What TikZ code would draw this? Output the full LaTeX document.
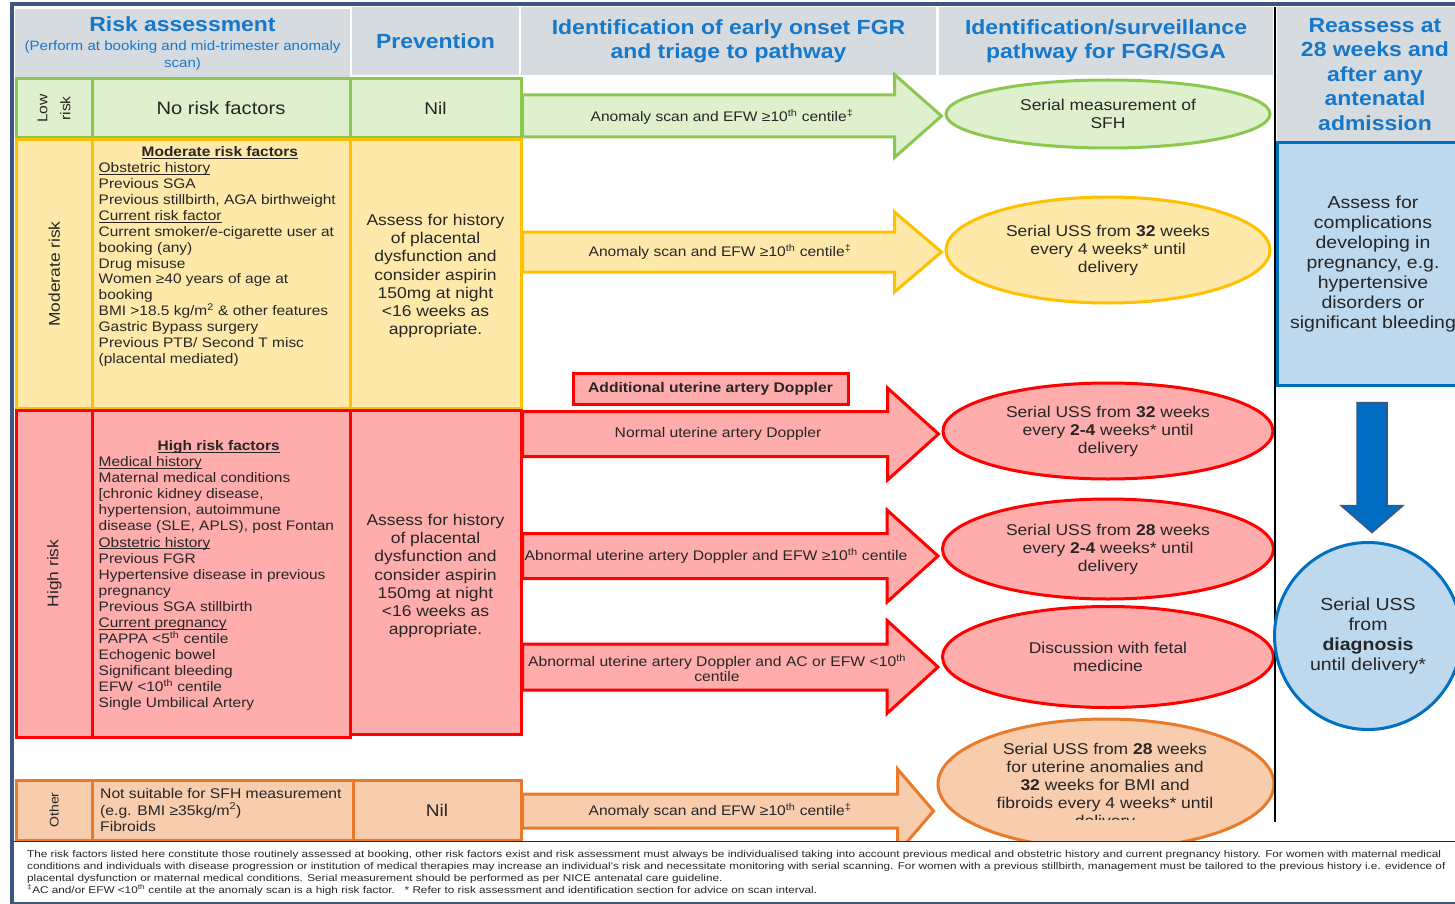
\documentclass[tikz,border=0pt]{standalone}
\usepackage{fontspec}
\setmainfont{Liberation Sans}[FakeStretch=1.12]
\newfontfamily\notefont{Liberation Sans}[FakeStretch=1.2]
\usetikzlibrary{positioning,shapes.geometric,calc}

\definecolor{ink}{RGB}{38,38,38}
\definecolor{framecol}{RGB}{62,86,124}
\definecolor{headgrey}{RGB}{214,219,224}
\definecolor{headblue}{RGB}{22,120,202}
\definecolor{lowfill}{RGB}{222,240,205}
\definecolor{lowline}{RGB}{140,200,78}
\definecolor{modfill}{RGB}{255,233,170}
\definecolor{modline}{RGB}{255,192,0}
\definecolor{hifill}{RGB}{255,172,172}
\definecolor{hiline}{RGB}{255,0,0}
\definecolor{othfill}{RGB}{248,205,173}
\definecolor{othline}{RGB}{232,122,42}
\definecolor{refill}{RGB}{190,216,238}
\definecolor{reline}{RGB}{0,112,192}
\definecolor{downfill}{RGB}{0,108,194}

% underlined sub-heading in the factor lists
\newcommand{\undl}[1]{\setbox0=\hbox{#1}\rlap{\raisebox{-2.2pt}{\rule{\wd0}{0.9pt}}}\box0}

\tikzset{%
   cell/.style={
      draw,
      line width=3pt,
      inner sep=0pt,
      text=ink,
      align=center
   },
   lowcell/.style={cell, draw=lowline, fill=lowfill},
   modcell/.style={cell, draw=modline, fill=modfill},
   hicell/.style={cell, draw=hiline, fill=hifill},
   othcell/.style={cell, draw=othline, fill=othfill},
   headcell/.style={
      fill=headgrey,
      inner sep=0pt,
      text=headblue,
      align=center,
      font=\bfseries\fontsize{20.5}{24.5}\selectfont
   },
   sidelabel/.style={
      rotate=90,
      inner sep=0pt,
      text=ink,
      align=center,
      font=\fontsize{15.5}{18}\selectfont
   },
   factors/.style={
      anchor=north west,
      inner sep=0pt,
      text=ink,
      align=left,
      font=\fontsize{13.8}{15.9}\selectfont
   },
   advice/.style={
      inner sep=0pt,
      text=ink,
      align=center,
      font=\fontsize{15.6}{18.2}\selectfont
   },
   pathway/.style={
      ellipse,
      line width=3pt,
      inner sep=0pt,
      text=ink,
      align=center,
      font=\fontsize{15.6}{18}\selectfont
   },
   flow/.style={line width=3pt, line join=miter},
   flowtext/.style={
      inner sep=0pt,
      text=ink,
      align=center,
      font=\fontsize{14}{14.5}\selectfont
   },
   scantext/.style={flowtext, font=\fontsize{13.9}{16}\selectfont},
   frame/.style={draw=framecol, line width=4pt},
}

% block arrow from a cell to a pathway ellipse:
% style, from, to, centre y, body half height, head half height, head length
\newcommand{\flowarrow}[7]{%
  \draw[#1] (#2.east |- 0,#4-#5)
    -- ($(#3.west |- 0,#4-#5)+(-3-#7,0)$)
    -- ($(#3.west |- 0,#4-#6)+(-3-#7,0)$)
    -- ($(#3.west |- 0,#4)+(-3,0)$)
    -- ($(#3.west |- 0,#4+#6)+(-3-#7,0)$)
    -- ($(#3.west |- 0,#4+#5)+(-3-#7,0)$)
    -- (#2.east |- 0,#4+#5) -- cycle;}

\begin{document}
\begin{tikzpicture}[x=1pt, y=-1pt]
  \useasboundingbox (0,0) rectangle (1455,904);
  \clip (0,0) rectangle (1455,904);

  % column headings
  \node[headcell, minimum width=335pt, minimum height=68pt,
        font=\mdseries\fontsize{13.5}{16.5}\selectfont] (h1) at (182.5,43)
     {{\bfseries\fontsize{20.5}{24.5}\selectfont Risk assessment}\\[3pt]
      (Perform at booking and mid-trimester anomaly\\scan)};
  \node[headcell, minimum width=167pt, minimum height=68pt] (h2) at (435.5,41) {Prevention};
  \node[headcell, minimum width=415pt, minimum height=68pt] (h3) at (728.5,41)
     {Identification of early onset FGR\\and triage to pathway};
  \node[headcell, minimum width=334pt, minimum height=68pt] (h4) at (1106,41)
     {Identification/surveillance\\pathway for FGR/SGA};
  \node[headcell, minimum width=196pt, minimum height=135pt] (h5) at (1375,74.5)
     {Reassess at\\28 weeks and\\after any\\antenatal\\admission};
  \fill[white] (350,5.5) rectangle (352,76);

  % low risk
  \node[lowcell, minimum width=75.5pt, minimum height=59pt] (lowcat) at (54.25,108.5) {};
  \node[sidelabel, font=\fontsize{14}{23}\selectfont] at (lowcat) {Low\\risk};
  \node[lowcell, minimum width=258pt, minimum height=59pt,
        font=\fontsize{18}{20}\selectfont] (lowfac) at (221,108.5) {No risk factors};
  \node[lowcell, minimum width=171pt, minimum height=59pt,
        font=\fontsize{17}{20}\selectfont] (lowprev) at (435.5,108.5) {Nil};

  % moderate risk
  \node[modcell, minimum width=75.5pt, minimum height=268pt] (modcat) at (54.25,274) {};
  \node[sidelabel] at (modcat) {Moderate risk};
  \node[modcell, minimum width=258pt, minimum height=268pt] (modfac) at (221,274) {};
  \node[factors, below right=8pt and 8pt of modfac.north west] (modlist)
     {\hspace*{43pt}\textbf{\undl{Moderate risk factors}}\\
      \undl{Obstetric history}\\
      Previous SGA\\
      Previous stillbirth, AGA birthweight\\
      \undl{Current risk factor}\\
      Current smoker/e-cigarette user at\\
      booking (any)\\
      Drug misuse\\
      Women ≥40 years of age at\\
      booking\\
      BMI >18.5 kg/m\textsuperscript{2} \& other features\\
      Gastric Bypass surgery\\
      Previous PTB/ Second T misc\\
      (placental mediated)};
  \node[modcell, minimum width=171pt, minimum height=268pt] (modprev) at (435.5,274) {};
  \node[advice] (modadv) at (435.5,276)
     {Assess for history\\of placental\\dysfunction and\\consider aspirin\\150mg at night\\<16 weeks as\\appropriate.};

  % high risk
  \node[hicell, minimum width=75.5pt, minimum height=327pt] (hicat) at (54.25,573.5) {};
  \node[sidelabel] at (hicat) {High risk};
  \node[hicell, minimum width=258pt, minimum height=327pt] (hifac) at (221,573.5) {};
  \node[factors, font=\fontsize{13.8}{16.05}\selectfont,
        below right=32pt and 8pt of hifac.north west] (hilist)
     {\hspace*{59pt}\textbf{\undl{High risk factors}}\\
      \undl{Medical history}\\
      Maternal medical conditions\\
      {[}chronic kidney disease,\\
      hypertension, autoimmune\\
      disease (SLE, APLS), post Fontan\\
      \undl{Obstetric history}\\
      Previous FGR\\
      Hypertensive disease in previous\\
      pregnancy\\
      Previous SGA stillbirth\\
      \undl{Current pregnancy}\\
      PAPPA <5\textsuperscript{th} centile\\
      Echogenic bowel\\
      Significant bleeding\\
      EFW <10\textsuperscript{th} centile\\
      Single Umbilical Artery};
  \node[hicell, minimum width=171pt, minimum height=324pt] (hiprev) at (435.5,572) {};
  \node[advice] (hiadv) at (435.5,576)
     {Assess for history\\of placental\\dysfunction and\\consider aspirin\\150mg at night\\<16 weeks as\\appropriate.};

  % other
  \node[othcell, minimum width=75.5pt, minimum height=60pt] (othcat) at (54.25,810) {};
  \node[sidelabel, font=\fontsize{12.5}{15}\selectfont] at (othcat) {Other};
  \node[othcell, minimum width=261pt, minimum height=60pt] (othfac) at (222.5,810) {};
  \node[factors, font=\fontsize{14}{16.5}\selectfont, anchor=west] (othlist) at (100,810)
     {Not suitable for SFH measurement\\
      (e.g. BMI ≥35kg/m\textsuperscript{2})\\
      Fibroids};
  \node[othcell, minimum width=168pt, minimum height=60pt,
        font=\fontsize{17}{20}\selectfont] (othprev) at (437,810) {Nil};

  % pathways
  \node[pathway, draw=lowline, fill=lowfill, minimum width=324pt, minimum height=68pt]
     (lowpath) at (1108,114) {Serial measurement of\\SFH};
  \node[pathway, draw=modline, fill=modfill, minimum width=324pt, minimum height=106pt]
     (modpath) at (1108,250) {Serial USS from \textbf{32} weeks\\every 4 weeks* until\\delivery};
  \node[pathway, draw=hiline, fill=hifill, minimum width=330pt, minimum height=96pt]
     (hipath1) at (1108,431) {Serial USS from \textbf{32} weeks\\every \textbf{2-4} weeks* until\\delivery};
  \node[pathway, draw=hiline, fill=hifill, minimum width=331pt, minimum height=100pt]
     (hipath2) at (1108,549) {Serial USS from \textbf{28} weeks\\every \textbf{2-4} weeks* until\\delivery};
  \node[pathway, draw=hiline, fill=hifill, minimum width=331pt, minimum height=101pt]
     (hipath3) at (1108,657) {Discussion with fetal\\medicine};
  \node[pathway, draw=othline, fill=othfill, minimum width=336pt, minimum height=130pt]
     (othpath) at (1106,784) {};
  \begin{scope}
    \clip (930,700) rectangle (1290,819);
    \node[pathway, draw=none] (othtext) at (1105,786)
       {Serial USS from \textbf{28} weeks\\for uterine anomalies and\\\textbf{32} weeks for BMI and\\fibroids every 4 weeks* until\\delivery};
  \end{scope}

  % triage arrows
  \flowarrow{flow, draw=lowline, fill=lowfill}{lowprev}{lowpath}{116}{21}{41.5}{47}
  \flowarrow{flow, draw=modline, fill=modfill}{modprev}{modpath}{252}{20}{40}{47}
  \flowarrow{flow, draw=hiline, fill=hifill}{hiprev}{hipath1}{434}{22.5}{46}{51}
  \flowarrow{flow, draw=hiline, fill=hifill}{hiprev}{hipath2}{556}{22.5}{46}{51}
  \flowarrow{flow, draw=hiline, fill=hifill}{hiprev}{hipath3}{667}{23}{46.5}{51}
  \flowarrow{flow, draw=othline, fill=othfill}{othprev}{othpath}{811}{17}{42}{36}

  \node[scantext] (lowflow) at (722,117) {Anomaly scan and EFW ≥10\textsuperscript{th} centile\textsuperscript{‡}};
  \node[scantext] (modflow) at (720,252) {Anomaly scan and EFW ≥10\textsuperscript{th} centile\textsuperscript{‡}};
  \node[flowtext] (hiflow1) at (718,434) {Normal uterine artery Doppler};
  \node[flowtext] (hiflow2) at (716,556) {Abnormal uterine artery Doppler and EFW ≥10\textsuperscript{th} centile};
  \node[flowtext] (hiflow3) at (717,668) {Abnormal uterine artery Doppler and AC or EFW <10\textsuperscript{th}\\centile};
  \node[scantext] (othflow) at (720,811) {Anomaly scan and EFW ≥10\textsuperscript{th} centile\textsuperscript{‡}};

  \node[hicell, minimum width=275pt, minimum height=31pt,
        font=\bfseries\fontsize{14}{16}\selectfont] (doppler) at (710.5,388.5)
     {Additional uterine artery Doppler};

  % reassessment column
  \draw[line width=1.5pt, black] (1275,7) -- (1275,822);
  \node[cell, draw=reline, fill=refill, minimum width=192pt, minimum height=242pt,
        font=\fontsize{17.4}{20}\selectfont] (reabox) at (1373,264)
     {Assess for\\complications\\developing in\\pregnancy, e.g.\\hypertensive\\disorders or\\significant bleeding};
  \node[circle, draw=reline, fill=refill, line width=3pt, minimum size=187pt, inner sep=0pt,
        align=center, text=ink, font=\fontsize{17.4}{20}\selectfont] (reacirc) at (1368,636)
     {Serial USS\\from\\\textbf{diagnosis}\\until delivery*};
  \coordinate (dtop) at ($(reabox.south)+(-1,16)$);
  \draw[fill=downfill, draw=framecol, line width=1.5pt]
     (dtop) ++(-15,0) -- ++(0,103) -- ++(-16,0) -- ++(31,27) -- ++(31,-27)
     -- ++(-16,0) -- ++(0,-103) -- cycle;

  % notes
  \node[fill=white, minimum width=1443pt, minimum height=61pt, inner sep=0pt] (notes) at (733.5,872.5) {};
  \draw[line width=1.2pt, ink] (notes.north west) -- (notes.north east);
  \node[anchor=north west, inner sep=0pt, align=left, text=ink,
        font=\notefont\fontsize{9.8}{12}\selectfont] (notetext) at (27,850)
     {The risk factors listed here constitute those routinely assessed at booking, other risk factors exist and risk assessment must always be individualised taking into account previous medical and obstetric history and current pregnancy history. For women with maternal medical\\
      conditions and individuals with disease progression or institution of medical therapies may increase an individual's risk and necessitate monitoring with serial scanning. For women with a previous stillbirth, management must be tailored to the previous history i.e. evidence of\\
      placental dysfunction or maternal medical conditions. Serial measurement should be performed as per NICE antenatal care guideline.\\
      \textsuperscript{‡}AC and/or EFW <10\textsuperscript{th} centile at the anomaly scan is a high risk factor.\quad * Refer to risk assessment and identification section for advice on scan interval.};

  % outer frame
  \draw[frame] (12,904) -- (12,4) -- (1455,4);
  \draw[frame, line width=3pt] (12,903) -- (1455,903);
\end{tikzpicture}
\end{document}
